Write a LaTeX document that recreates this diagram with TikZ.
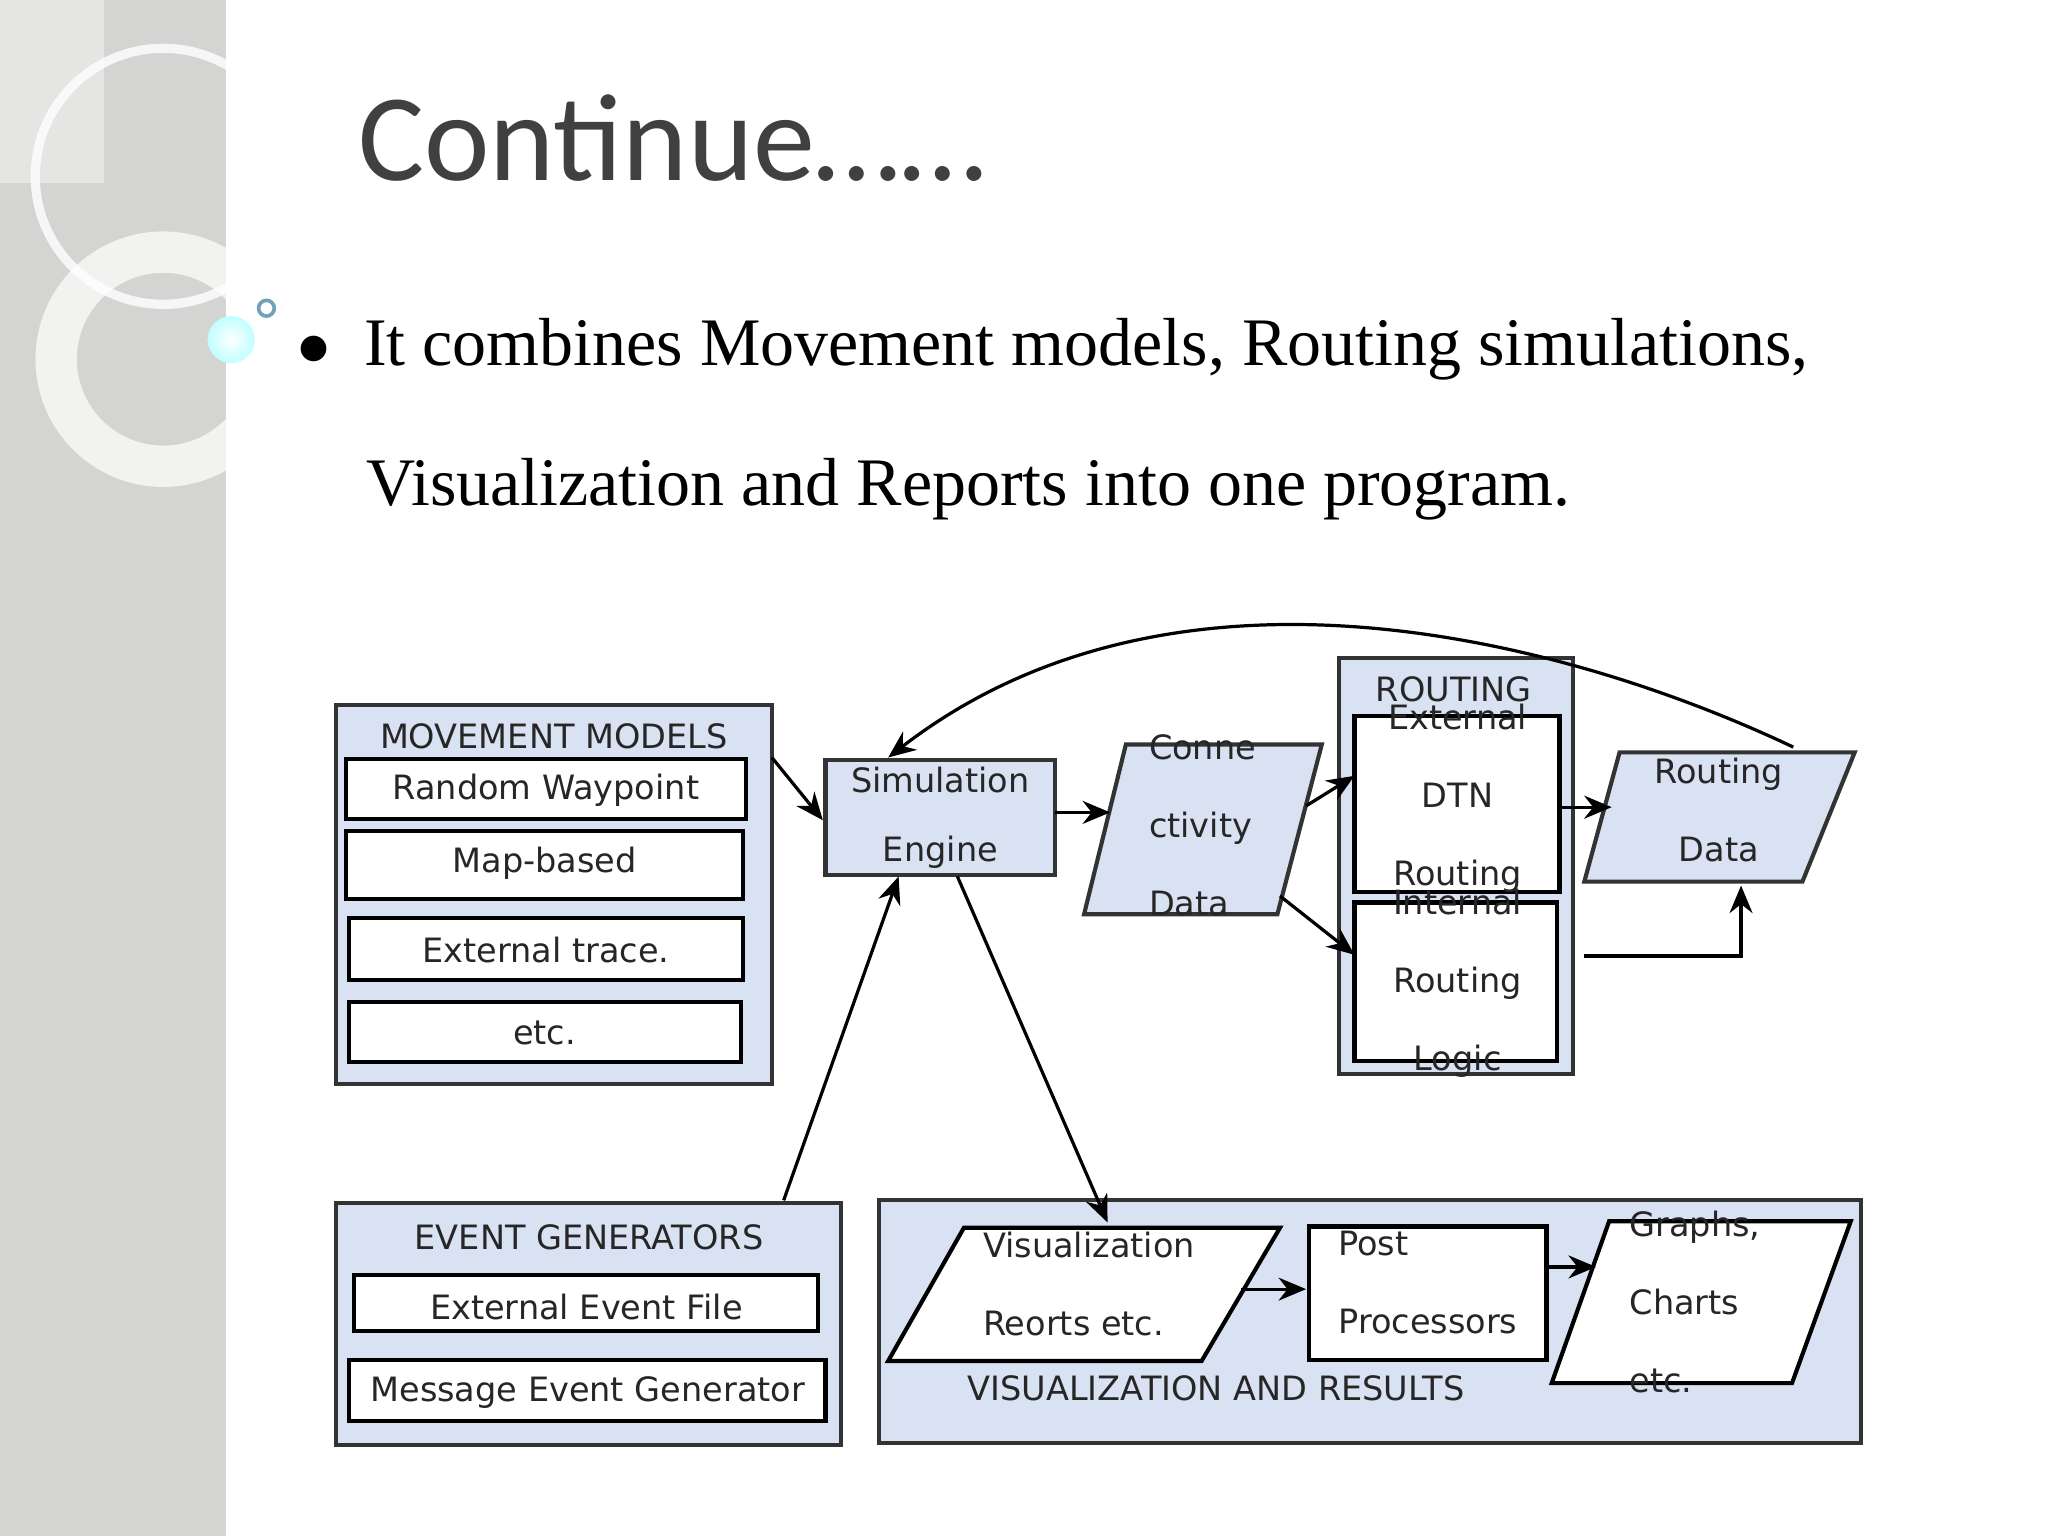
\documentclass[tikz,border=0pt]{standalone}
\usepackage{fontspec}
\setmainfont{Liberation Serif}
\newfontfamily\ttl{Carlito}
\newfontfamily\dia{DejaVu Sans}
\usetikzlibrary{arrows.meta}
\definecolor{bluef}{HTML}{D9E2F3}
\definecolor{side}{HTML}{D4D4D2}
\begin{document}
\begin{tikzpicture}[x=0.01cm,y=-0.01cm,
  blk/.style={draw=black!80,line width=0.9pt,fill=bluef},
  wb/.style={draw=black,line width=0.9pt,fill=white},
  lbl/.style={font=\dia\fontsize{7.3}{11}\selectfont,text=black!85,inner sep=0pt},
  arr/.style={-{Stealth[length=6pt,width=5pt]},line width=0.7pt}]
\useasboundingbox (0,0) rectangle (1568,1176);
\fill[white] (0,0) rectangle (1568,1176);
\fill[side] (0,0) rectangle (173,1176);
\draw[white,line width=2pt,opacity=0.8] (125,135) circle (98);
\draw[white,line width=9pt,opacity=0.7] (125,275) circle (82);
\fill[white,opacity=0.4] (0,0) rectangle (80,140);
\shade[inner color=white,outer color=cyan!25] (177,260) circle (18);
\draw[cyan!40!gray,line width=0.8pt] (204,236) circle (6);
\node[anchor=base west,font=\ttl\fontsize{27}{30}\selectfont,text=black!75] (title) at (262,138) {Continue\dots\dots};
\node[anchor=base west,font=\fontsize{14.8}{18}\selectfont] (b1) at (215,280) {$\bullet$\hspace{0.5em}It combines Movement models, Routing simulations,};
\node[anchor=base west,font=\fontsize{14.8}{18}\selectfont] (b2) at (268,387) {Visualization and Reports into one program.};

% movement models
\draw[blk] (257,540) rectangle (591,830);
\node[lbl] (mm) at (424,564) {MOVEMENT MODELS};
\draw[wb] (265,581) rectangle (571,627); \node[lbl] (rw) at (418,605) {Random Waypoint};
\draw[wb] (265,636) rectangle (569,688); \node[lbl] (mb) at (417,661) {Map-based};
\draw[wb] (267,703) rectangle (569,750); \node[lbl] (et) at (418,727) {External trace.};
\draw[wb] (267,767) rectangle (567,813); \node[lbl] (etc) at (417,791) {etc.};
% simulation engine
\draw[blk] (632,582) rectangle (808,670);
\node[lbl,align=center] (se) at (720,626) {Simulation\\[4pt]Engine};
% connectivity
\draw[blk] (862,570) -- (1012,570) -- (978,700) -- (830,700) -- cycle;
\node[lbl,align=left,anchor=west] (cd) at (879,632) {Conne\\[6pt]ctivity\\[6pt]Data};
% routing
\draw[blk] (1025,504) rectangle (1204,822);
\node[lbl] (rt) at (1113,528) {ROUTING};
\draw[wb] (1037,548) rectangle (1194,683);
\node[lbl,align=center] (ed) at (1116,611) {External\\[6pt]DTN\\[6pt]Routing};
\draw[wb] (1037,691) rectangle (1192,812);
\node[lbl,align=center] (ir) at (1116,753) {Internal\\[6pt]Routing\\[6pt]Logic};
% routing data
\draw[blk] (1240,576) -- (1420,576) -- (1380,675) -- (1213,675) -- cycle;
\node[lbl,align=center] (rd) at (1316,620) {Routing\\[6pt]Data};
% event generators
\draw[blk] (257,921) rectangle (644,1106);
\node[lbl] (eg) at (451,947) {EVENT GENERATORS};
\draw[wb] (271,976) rectangle (626,1019); \node[lbl] (eef) at (449,1001) {External Event File};
\draw[wb] (267,1041) rectangle (632,1088); \node[lbl] (meg) at (450,1066) {Message Event Generator};
% visualization
\draw[blk] (673,919) rectangle (1425,1105);
\draw[wb] (738,940) -- (980,940) -- (920,1042) -- (680,1042) -- cycle;
\node[lbl,align=left,anchor=west] (vr) at (752,983) {Visualization\\[6pt]Reorts etc.};
\draw[wb] (1002,939) rectangle (1184,1041);
\node[lbl,align=left,anchor=west] (pp) at (1024,982) {Post\\[6pt]Processors};
\draw[wb] (1232,935) -- (1417,935) -- (1372,1059) -- (1188,1059) -- cycle;
\node[lbl,align=left,anchor=west] (gc) at (1247,997) {Graphs,\\[6pt]Charts\\[6pt]etc.};
\node[lbl] (var) at (931,1063) {VISUALIZATION AND RESULTS};
% connectors
\coordinate (a1) at (591,580); \coordinate (a2) at (630,628);
\coordinate (s1) at (808,622); \coordinate (c1) at (850,622);
\coordinate (c2) at (1000,617); \coordinate (e1) at (1037,594);
\coordinate (c3) at (980,686); \coordinate (i1) at (1037,731);
\coordinate (e2) at (1194,618); \coordinate (r1) at (1234,618);
\coordinate (i2) at (1213,732); \coordinate (r2) at (1333,678);
\coordinate (r3) at (1373,572); \coordinate (s2) at (680,580);
\coordinate (g1) at (600,919); \coordinate (s3) at (688,671);
\coordinate (s4) at (733,671); \coordinate (v1) at (848,936);
\coordinate (v2) at (950,987); \coordinate (p1) at (1000,987);
\coordinate (p2) at (1184,970); \coordinate (q1) at (1222,970);
\draw[arr] (a1) -- (a2);
\draw[arr] (s1) -- (c1);
\draw[arr] (c2) -- (e1);
\draw[arr] (c3) -- (i1);
\draw[arr] (e2) -- (r1);
\draw[arr] (i2) -| (r2);
\draw[arr] (r3) .. controls (1200,490) and (900,410) .. (s2);
\draw[arr] (g1) -- (s3);
\draw[arr] (s4) -- (v1);
\draw[arr] (v2) -- (p1);
\draw[arr] (p2) -- (q1);
\end{tikzpicture}
\end{document}
